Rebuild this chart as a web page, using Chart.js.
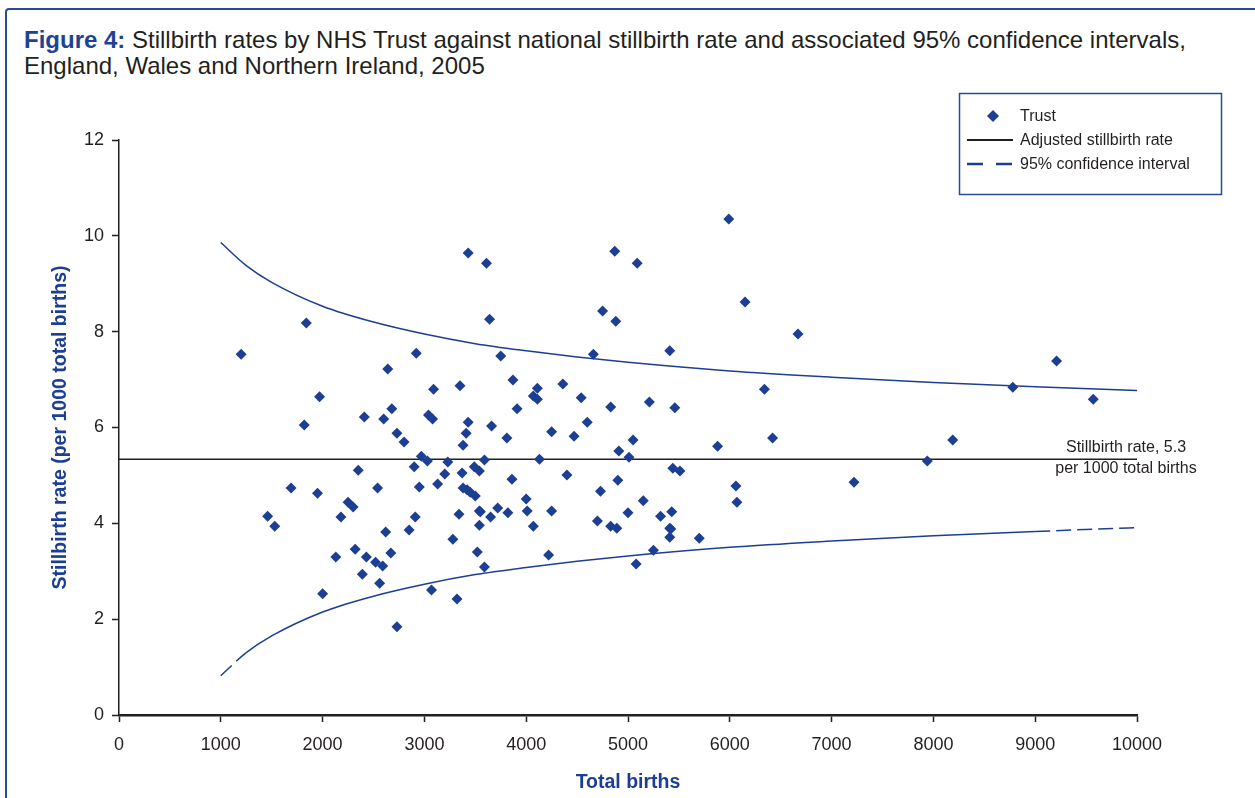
<!DOCTYPE html>
<html>
<head>
<meta charset="utf-8">
<script src="https://cdn.jsdelivr.net/npm/chart.js@4.4.1/dist/chart.umd.min.js"></script>
<style>
  html, body { margin: 0; padding: 0; background: #fff; overflow: hidden; }
  #frame { position: absolute; left: 5px; top: 8px; width: 1400px; height: 1000px;
           border: 2.5px solid #2a4a9a; border-radius: 4px; }
  #title { position: absolute; left: 24px; top: 27px; color: #231f20;
           font: 24px "Liberation Sans", Arial, sans-serif; line-height: 26px; }
  #title b { color: #1f4394; }
  #wrap { position: absolute; left: 0; top: 0; width: 1255px; height: 798px; }
</style>
</head>
<body>
<div id="frame"></div>
<div id="title"><b>Figure 4:</b> Stillbirth rates by NHS Trust against national stillbirth rate and associated 95% confidence intervals,<br>England, Wales and Northern Ireland, 2005</div>
<div id="wrap"><canvas id="chart"></canvas></div>
<script>
// one point per trust: total births and stillbirth rate per 1000 births
const trustBirths = [
  1200, 1840, 1970, 1820, 1460, 1530, 1690, 1950, 2000, 2130,
  2180, 2250, 2300, 2350, 2320, 2390, 2410, 2430, 2520, 2590,
  2540, 2560, 2600, 2640, 2620, 2680, 2670, 2730, 2730, 2800,
  2850, 2920, 2900, 2910, 2950, 2970, 3030, 3040, 3080, 3090,
  3070, 3130, 3200, 3230, 3280, 3320, 3340, 3350, 3380, 3410,
  3430, 3430, 3370, 3380, 3420, 3450, 3500, 3490, 3540, 3520,
  3540, 3550, 3540, 3590, 3590, 3610, 3640, 3660, 3650, 3720,
  3750, 3810, 3820, 3860, 3870, 3910, 4000, 4010, 4070, 4070,
  4110, 4110, 4130, 4220, 4250, 4250, 4360, 4400, 4470, 4540,
  4600, 4660, 4700, 4730, 4750, 4830, 4830, 4890, 4870, 4880,
  4900, 4910, 5000, 5010, 5050, 5090, 5080, 5150, 5210, 5250,
  5320, 5410, 5430, 5410, 5420, 5410, 5440, 5460, 5510, 5700,
  5880, 5990, 6060, 6070, 6150, 6340, 6420, 6670, 7220, 7940,
  8190, 8780, 9210, 9570
];
const trustRates = [
  7.53, 8.18, 6.64, 6.05, 4.15, 3.94, 4.74, 4.63, 2.53, 3.30,
  4.13, 4.44, 4.34, 5.11, 3.46, 2.94, 6.22, 3.30, 3.19, 3.11,
  4.74, 2.75, 6.18, 7.22, 3.82, 6.39, 3.38, 1.84, 5.88, 5.70,
  3.86, 7.55, 5.18, 4.13, 4.76, 5.40, 5.30, 6.26, 6.18, 6.80,
  2.61, 4.82, 5.03, 5.28, 3.67, 2.42, 4.19, 6.87, 5.63, 5.88,
  6.11, 9.64, 5.05, 4.74, 4.70, 4.65, 4.57, 5.18, 5.09, 3.40,
  4.26, 4.24, 3.96, 5.32, 3.09, 9.43, 8.26, 6.03, 4.13, 4.32,
  7.49, 5.78, 4.22, 4.92, 6.99, 6.39, 4.51, 4.26, 3.94, 6.66,
  6.59, 6.82, 5.34, 3.34, 4.26, 5.91, 6.91, 5.01, 5.82, 6.62,
  6.11, 7.53, 4.05, 4.67, 8.43, 6.43, 3.94, 3.90, 9.68, 8.22,
  4.90, 5.51, 4.22, 5.38, 5.74, 9.43, 3.15, 4.47, 6.53, 3.44,
  4.15, 7.60, 4.24, 3.90, 3.88, 3.71, 5.15, 6.41, 5.09, 3.69,
  5.61, 10.35, 4.78, 4.44, 8.62, 6.80, 5.78, 7.95, 4.86, 5.30,
  5.74, 6.84, 7.39, 6.59
];

// confidence interval curves
const ciBirths = [1000, 1250, 1500, 2000, 2500, 3000, 3500, 4000, 4500, 5000, 6000, 7000, 8000, 9000, 10000];
const ciUpper  = [9.86, 9.38, 9.03, 8.53, 8.20, 7.95, 7.75, 7.60, 7.47, 7.36, 7.18, 7.05, 6.94, 6.85, 6.77];
const ciLower  = [0.82, 1.30, 1.65, 2.15, 2.48, 2.73, 2.93, 3.08, 3.21, 3.32, 3.50, 3.63, 3.74, 3.83, 3.91];

const nationalRate = 5.34;
const rateRange = [0, 10000];
const annotationLines = ['Stillbirth rate, 5.3', 'per 1000 total births'];
const legendLabels = ['Trust', 'Adjusted stillbirth rate', '95% confidence interval'];

const BLUE = '#1c3f94';
const INK = '#231f20';
const FONT = '"Liberation Sans", Arial, sans-serif';

const toPoints = (xs, ys) => xs.map((x, i) => ({ x: x, y: ys[i] }));

// legend box and the label next to the national line
const extras = {
  id: 'extras',
  afterDraw(chart) {
    const { ctx, chartArea, scales } = chart;
    ctx.save();

    ctx.font = '16px ' + FONT;
    ctx.fillStyle = INK;
    ctx.textAlign = 'center';
    ctx.textBaseline = 'middle';
    const ly = scales.y.getPixelForValue(nationalRate);
    ctx.fillText(annotationLines[0], chartArea.right - 11, ly - 12);
    ctx.fillText(annotationLines[1], chartArea.right - 11, ly + 9);

    // legend
    ctx.strokeStyle = '#2a4a9a';
    ctx.lineWidth = 1.5;
    ctx.strokeRect(959.5, 93.5, 262, 101);

    ctx.fillStyle = BLUE;
    ctx.beginPath();
    ctx.moveTo(993, 110); ctx.lineTo(999, 116); ctx.lineTo(993, 122); ctx.lineTo(987, 116);
    ctx.closePath();
    ctx.fill();

    ctx.strokeStyle = INK;
    ctx.lineWidth = 2;
    ctx.beginPath(); ctx.moveTo(967, 140); ctx.lineTo(1013, 140); ctx.stroke();

    ctx.strokeStyle = BLUE;
    ctx.lineWidth = 2.5;
    ctx.setLineDash([16, 13]);
    ctx.beginPath(); ctx.moveTo(967, 164); ctx.lineTo(1013, 164); ctx.stroke();
    ctx.setLineDash([]);

    ctx.fillStyle = INK;
    ctx.textAlign = 'left';
    legendLabels.forEach((t, i) => ctx.fillText(t, 1020, 117 + i * 24));

    ctx.restore();
  }
};

const dashedEnds = c =>
  (c.p1.parsed.x <= 1250 || c.p0.parsed.x >= 9000) ? [15, 6] : undefined;

new Chart(document.getElementById('chart'), {
  type: 'scatter',
  data: {
    datasets: [
      {
        label: 'Trust',
        data: toPoints(trustBirths, trustRates),
        pointStyle: 'rectRot',
        pointRadius: 5.5,
        pointBorderWidth: 0,
        backgroundColor: BLUE,
        borderColor: BLUE
      },
      {
        label: 'Adjusted stillbirth rate',
        data: toPoints(rateRange, [nationalRate, nationalRate]),
        showLine: true,
        pointRadius: 0,
        borderColor: INK,
        borderWidth: 1.5
      },
      {
        label: '95% confidence interval',
        data: toPoints(ciBirths, ciUpper),
        showLine: true,
        pointRadius: 0,
        borderColor: BLUE,
        borderWidth: 1.5,
        cubicInterpolationMode: 'monotone'
      },
      {
        label: '95% confidence interval (lower)',
        data: toPoints(ciBirths, ciLower),
        showLine: true,
        pointRadius: 0,
        borderColor: BLUE,
        borderWidth: 1.5,
        cubicInterpolationMode: 'monotone',
        segment: { borderDash: dashedEnds }
      }
    ]
  },
  options: {
    responsive: true,
    maintainAspectRatio: false,
    animation: false,
    layout: { padding: { left: 45, top: 140, right: 118, bottom: 0 } },
    plugins: {
      legend: { display: false },
      tooltip: { enabled: false }
    },
    scales: {
      x: {
        type: 'linear',
        min: 0,
        max: 10000,
        afterFit: s => { s.height = 83; },
        ticks: { stepSize: 1000, color: INK, font: { family: FONT, size: 18 }, padding: 12,
                 maxRotation: 0, autoSkip: false, callback: v => String(v) },
        grid: { display: true, drawOnChartArea: false, drawTicks: true, tickLength: 7,
                color: INK, tickWidth: 1.5 },
        border: { display: true, color: INK, width: 2.5 },
        title: { display: true, text: 'Total births', color: BLUE,
                 font: { family: FONT, size: 19.5, weight: 'bold' }, padding: { top: 4, bottom: 4 } }
      },
      y: {
        min: 0,
        max: 12,
        afterFit: s => { s.width = 74; },
        ticks: { stepSize: 2, color: INK, font: { family: FONT, size: 18 }, padding: 8 },
        grid: { display: true, drawOnChartArea: false, drawTicks: true, tickLength: 7,
                color: INK, tickWidth: 1.5 },
        border: { display: true, color: INK, width: 1.5 },
        title: { display: true, text: 'Stillbirth rate (per 1000 total births)', color: BLUE,
                 font: { family: FONT, size: 19.5, weight: 'bold' }, padding: { top: 4, bottom: 4 } }
      }
    }
  },
  plugins: [extras]
});
</script>
</body>
</html>
